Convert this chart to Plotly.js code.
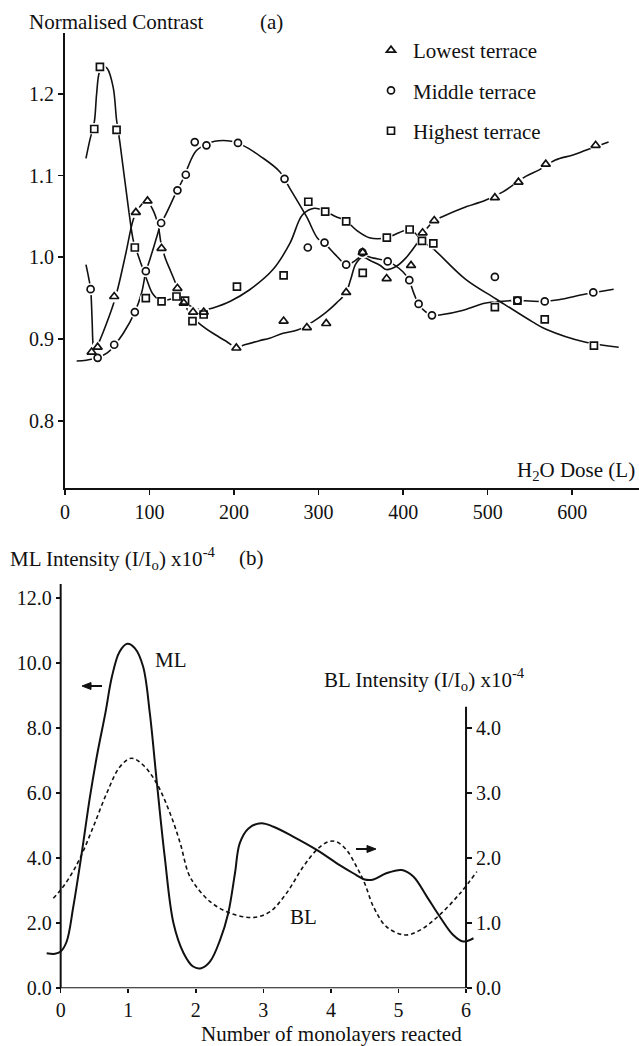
<!DOCTYPE html>
<html>
<head>
<meta charset="utf-8">
<script src="https://cdn.plot.ly/plotly-3.0.1.min.js"></script>
<style>html,body{margin:0;padding:0;background:#fff;}</style>
</head>
<body>
<div id="chart" style="width:639px;height:1046px;"></div>
<script>
// ---------- Panel (a): measured points ----------
const lowX  = [31.5, 38.6, 58.2, 83.8, 97.6, 114.2, 133, 140.5, 151.5, 164.1, 202.7, 258.6, 286.1, 309, 332.6, 352.2, 380.5, 409.3, 423, 436.8, 508.5, 536.4, 568.7, 627.7];
const lowY  = [0.884, 0.890, 0.952, 1.055, 1.069, 1.011, 0.962, 0.944, 0.933, 0.933, 0.889, 0.922, 0.914, 0.919, 0.957, 1.006, 0.974, 0.990, 1.030, 1.045, 1.073, 1.092, 1.114, 1.137];
const midX  = [30.3, 38.6, 58.2, 82.6, 95.6, 113.7, 133, 142.9, 153.5, 167.3, 204.6, 259.7, 287.2, 307, 332.6, 351.8, 381.7, 407.3, 418.3, 434.1, 508.5, 535.2, 567.5, 624.9];
const midY  = [0.961, 0.877, 0.893, 0.933, 0.983, 1.042, 1.082, 1.101, 1.141, 1.137, 1.140, 1.096, 1.012, 1.018, 0.991, 1.006, 0.995, 0.972, 0.943, 0.929, 0.976, 0.947, 0.946, 0.957];
const highX = [34.6, 41.3, 61, 82.6, 95.6, 114.2, 131.9, 142, 150.8, 164, 203.4, 258.6, 287.8, 307.8, 332.6, 352.2, 380.7, 407.7, 422.3, 435.7, 508.5, 535.2, 567.5, 625.7];
const highY = [1.157, 1.233, 1.156, 1.012, 0.950, 0.946, 0.952, 0.947, 0.922, 0.930, 0.964, 0.978, 1.068, 1.056, 1.044, 0.981, 1.024, 1.034, 1.020, 1.017, 0.939, 0.947, 0.924, 0.892];

// ---------- Panel (a): hand-drawn guide curves ----------
const lowCurveX = [24.8, 28, 30.3, 32, 33.4, 35, 37.4, 45, 57, 63, 72, 80.7, 86, 92, 97.5, 104, 110, 114, 119, 125, 131, 136, 141, 150, 160, 175, 191, 202.7, 212.5, 230, 242, 258, 275, 293, 308, 321, 332, 338, 344, 352, 363, 373, 380, 392, 403, 415, 424, 437, 447, 470, 498, 518, 545, 561, 580, 600, 616, 643];
const lowCurveY = [0.991, 0.975, 0.961, 0.925, 0.890, 0.882, 0.889, 0.908, 0.942, 0.964, 1.005, 1.046, 1.058, 1.066, 1.068, 1.058, 1.040, 1.015, 0.998, 0.983, 0.968, 0.955, 0.943, 0.928, 0.918, 0.907, 0.897, 0.890, 0.893, 0.898, 0.901, 0.907, 0.911, 0.921, 0.932, 0.944, 0.956, 0.973, 0.992, 1.000, 0.995, 0.990, 0.985, 0.989, 0.999, 1.015, 1.030, 1.045, 1.050, 1.060, 1.070, 1.080, 1.099, 1.107, 1.119, 1.125, 1.131, 1.141];
const midCurveX = [13.8, 25, 38, 50, 59, 69, 82.6, 90.5, 95.6, 100.3, 110, 113.3, 118, 130, 142.5, 145.6, 155, 166.5, 177, 196.8, 210.5, 232, 253.8, 265.6, 285.6, 299, 307, 320, 333, 342, 352, 365, 382, 400, 407, 413, 420, 434, 446.6, 470, 497.8, 529, 567.5, 584, 616, 649];
const midCurveY = [0.873, 0.874, 0.877, 0.883, 0.893, 0.907, 0.933, 0.956, 0.982, 0.997, 1.030, 1.042, 1.050, 1.076, 1.102, 1.111, 1.130, 1.138, 1.142, 1.142, 1.137, 1.123, 1.105, 1.085, 1.050, 1.023, 1.017, 1.003, 0.991, 0.995, 1.002, 0.999, 0.995, 0.982, 0.972, 0.955, 0.940, 0.929, 0.930, 0.935, 0.944, 0.947, 0.946, 0.948, 0.955, 0.961];
const highCurveX = [24.8, 29.5, 34.6, 37.4, 40.5, 45, 50, 57, 61, 65, 74.8, 80.7, 83.4, 89, 97, 104, 113, 122, 130, 142, 152, 160, 168, 175, 195, 218, 246, 266, 281, 295, 308, 320, 333, 345, 360, 381, 395, 408, 423, 436, 474, 510, 553, 569, 616, 655];
const highCurveY = [1.121, 1.144, 1.165, 1.200, 1.226, 1.234, 1.231, 1.208, 1.168, 1.140, 1.062, 1.021, 1.012, 0.995, 0.972, 0.955, 0.947, 0.948, 0.950, 0.945, 0.938, 0.936, 0.936, 0.938, 0.946, 0.960, 0.985, 1.017, 1.052, 1.060, 1.056, 1.050, 1.044, 1.033, 1.024, 1.024, 1.030, 1.034, 1.020, 1.010, 0.973, 0.949, 0.921, 0.912, 0.896, 0.890];

const doseTicks = [0, 100, 200, 300, 400, 500, 600];
const contrastTicks = [0.8, 0.9, 1.0, 1.1, 1.2];

// ---------- Panel (b) ----------
const mlX = [-0.207, -0.084, 0, 0.089, 0.187, 0.311, 0.434, 0.55, 0.66, 0.76, 0.87, 0.987, 1.10, 1.22, 1.32, 1.42, 1.54, 1.67, 1.82, 1.96, 2.08, 2.21, 2.36, 2.48, 2.58, 2.65, 2.78, 2.97, 3.15, 3.44, 3.79, 4.13, 4.33, 4.50, 4.63, 4.82, 5.05, 5.22, 5.42, 5.61, 5.81, 5.96, 6.11];
const mlY = [1.08, 1.06, 1.13, 1.44, 2.51, 4.15, 5.90, 7.30, 8.45, 9.60, 10.35, 10.6, 10.46, 9.9, 8.46, 6.41, 4.05, 2.0, 1.08, 0.67, 0.62, 0.82, 1.49, 2.31, 3.54, 4.46, 4.92, 5.08, 4.97, 4.67, 4.26, 3.79, 3.54, 3.35, 3.35, 3.54, 3.64, 3.44, 2.82, 2.21, 1.64, 1.44, 1.54];
const blX = [-0.109, 0, 0.138, 0.286, 0.483, 0.681, 0.878, 1.05, 1.22, 1.42, 1.62, 1.77, 1.89, 1.99, 2.21, 2.51, 2.85, 3.10, 3.34, 3.59, 3.79, 3.96, 4.08, 4.23, 4.38, 4.50, 4.63, 4.82, 5.10, 5.32, 5.61, 5.91, 6.16];
const blY = [1.385, 1.515, 1.72, 2.0, 2.485, 3.0, 3.41, 3.54, 3.435, 3.155, 2.69, 2.23, 1.77, 1.59, 1.335, 1.155, 1.09, 1.18, 1.46, 1.87, 2.13, 2.255, 2.255, 2.13, 1.87, 1.615, 1.255, 0.95, 0.82, 0.895, 1.13, 1.46, 1.795];
const monoTicks = [0, 1, 2, 3, 4, 5, 6];
const mlTicks = [0, 2, 4, 6, 8, 10, 12];
const blTicks = [0, 1, 2, 3, 4];

// ---------- styling ----------
const W = 639, H = 1046;
const FONT = 'Liberation Serif, Times New Roman, serif';
const INK = '#111111';
const px = x => x / W;
const py = y => 1 - y / H;

function curve(x, y, xa, ya, extra) {
  return Object.assign({x, y, xaxis: xa, yaxis: ya, mode: 'lines', hoverinfo: 'skip',
    line: {color: INK, width: 1.6, shape: 'spline', smoothing: 1}, showlegend: false}, extra || {});
}
function knock(x, y) {
  return {x, y, xaxis: 'x', yaxis: 'y', mode: 'markers', hoverinfo: 'skip', showlegend: false,
    marker: {color: '#ffffff', size: 12, line: {width: 0}}};
}
function pts(x, y, sym, size, name, grp) {
  return {x, y, xaxis: 'x', yaxis: 'y', mode: 'markers', name, legendgroup: grp,
    marker: {symbol: sym, size, color: INK, line: {color: INK, width: 1.7}}};
}

const traces = [
  curve(lowCurveX, lowCurveY, 'x', 'y'),
  curve(midCurveX, midCurveY, 'x', 'y'),
  curve(highCurveX, highCurveY, 'x', 'y'),
  knock(lowX, lowY), knock(midX, midY), knock(highX, highY),
  pts(lowX, lowY, 'triangle-up-open', 8, 'Lowest terrace', 'g1'),
  pts(midX, midY, 'circle-open', 7, 'Middle terrace', 'g2'),
  pts(highX, highY, 'square-open', 7, 'Highest terrace', 'g3'),
  curve(mlX, mlY, 'x2', 'y2', {line: {color: INK, width: 2, shape: 'spline', smoothing: 1}}),
  curve(blX, blY, 'x2', 'y3', {line: {color: INK, width: 1.6, shape: 'spline', smoothing: 1, dash: '4px,3px'}})
];

const tickFont = {family: FONT, size: 20, color: INK};
const baseAx = {showgrid: false, zeroline: false, ticks: 'outside', ticklen: 5, tickwidth: 1.6,
  tickcolor: INK, tickfont: tickFont, fixedrange: true};

// arrow helper: line from tail to tip plus a filled head (paper coords from pixels)
function arrow(tx, tipX, y) {
  const dir = tipX < tx ? 1 : -1;
  return [
    {type: 'line', xref: 'paper', yref: 'paper', x0: px(tx), x1: px(tipX + dir * 6), y0: py(y), y1: py(y), line: {color: INK, width: 2}},
    {type: 'path', xref: 'paper', yref: 'paper', fillcolor: INK, line: {color: INK, width: 1},
      path: 'M ' + px(tipX) + ' ' + py(y) + ' L ' + px(tipX + dir * 9) + ' ' + py(y - 3.5) + ' L ' + px(tipX + dir * 9) + ' ' + py(y + 3.5) + ' Z'}
  ];
}

const layout = {
  width: W, height: H,
  margin: {l: 0, r: 0, t: 0, b: 0},
  paper_bgcolor: '#fff', plot_bgcolor: 'rgba(0,0,0,0)',
  font: {family: FONT, size: 21, color: INK},
  showlegend: true,
  legend: {x: px(369), y: py(30), xanchor: 'left', yanchor: 'top', bgcolor: 'rgba(0,0,0,0)',
    font: {family: FONT, size: 21, color: INK}, traceorder: 'grouped', tracegroupgap: 10, itemwidth: 34},
  xaxis: Object.assign({}, baseAx, {domain: [px(65), 1], range: [0, 679], anchor: 'y',
    showline: true, linewidth: 2, linecolor: INK, tickvals: doseTicks, ticktext: doseTicks.map(String)}),
  yaxis: Object.assign({}, baseAx, {domain: [py(488.3), py(33)], range: [0.7173, 1.2745], anchor: 'x',
    showline: true, linewidth: 2, linecolor: INK, tickvals: contrastTicks, tickformat: '.1f'}),
  xaxis2: Object.assign({}, baseAx, {domain: [px(40.4), px(486.3)], range: [-0.3, 6.3], anchor: 'y2',
    showline: false, ticklen: 4, tickvals: monoTicks, ticktext: monoTicks.map(String)}),
  yaxis2: Object.assign({}, baseAx, {domain: [py(988.3), py(578.8)], range: [0, 12.6], anchor: 'free',
    position: px(60.7), showline: false, tickvals: mlTicks, tickformat: '.1f'}),
  yaxis3: Object.assign({}, baseAx, {domain: [py(988.3), py(578.8)], range: [0, 6.3], overlaying: 'y2',
    side: 'right', anchor: 'free', position: px(466), showline: false, tickvals: blTicks, tickformat: '.1f'}),
  shapes: [
    {type: 'line', xref: 'x2', yref: 'y2', x0: 0, x1: 6, y0: 0, y1: 0, line: {color: INK, width: 2}},
    {type: 'line', xref: 'x2', yref: 'y2', x0: 0, x1: 0, y0: 0, y1: 12.44, line: {color: INK, width: 2}},
    {type: 'line', xref: 'x2', yref: 'y3', x0: 6, x1: 6, y0: 0, y1: 4.33, line: {color: INK, width: 2}}
  ].concat(arrow(102, 82, 686), arrow(356, 376, 849)),
  annotations: [
    {text: 'Normalised Contrast', x: px(27), y: py(22), xanchor: 'left'},
    {text: '(a)', x: px(258), y: py(22), xanchor: 'left'},
    {text: 'H<sub>2</sub>O Dose (L)', x: px(637), y: py(471), xanchor: 'right'},
    {text: 'ML Intensity (I/I<sub>o</sub>) x10<sup>-4</sup>', x: px(8), y: py(558), xanchor: 'left'},
    {text: '(b)', x: px(237), y: py(558), xanchor: 'left'},
    {text: 'BL Intensity (I/I<sub>o</sub>) x10<sup>-4</sup>', x: px(322), y: py(679), xanchor: 'left'},
    {text: 'ML', x: px(153), y: py(660), xanchor: 'left'},
    {text: 'BL', x: px(288), y: py(917), xanchor: 'left'},
    {text: 'Number of monolayers reacted', x: px(332), y: py(1034), xanchor: 'center'}
  ].map(a => Object.assign({xref: 'paper', yref: 'paper', yanchor: 'middle', showarrow: false,
    font: {family: FONT, size: 21, color: INK}}, a))
};

Plotly.newPlot('chart', traces, layout, {staticPlot: true, displayModeBar: false});
</script>
</body>
</html>
